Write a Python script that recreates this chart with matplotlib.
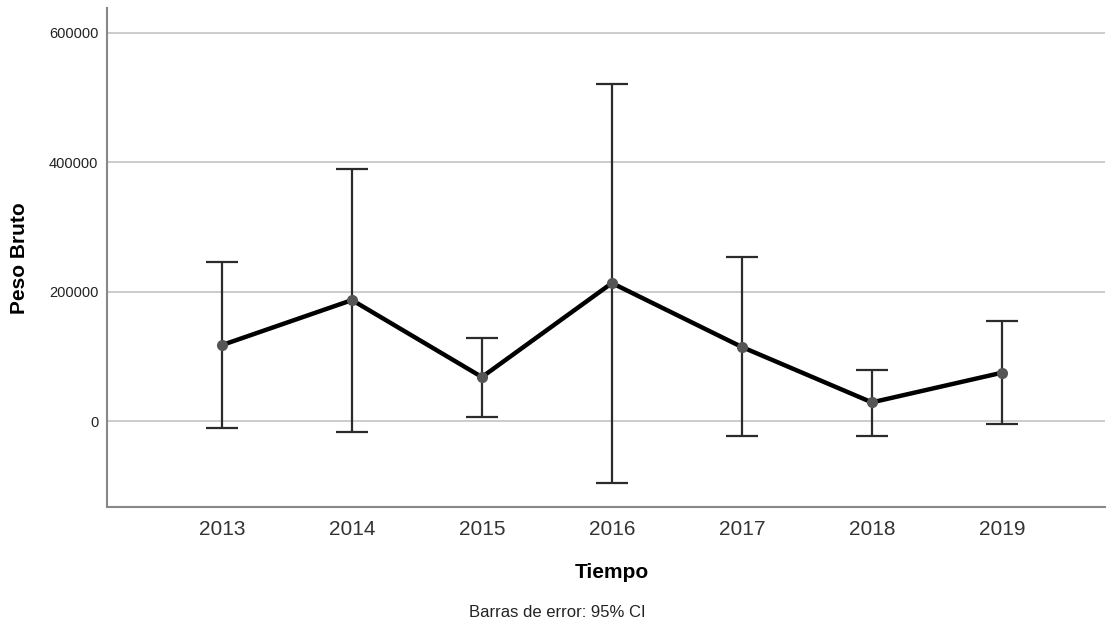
import matplotlib
matplotlib.use('Agg')
import matplotlib.pyplot as plt
import numpy as np

# dati (media e intervallo di confidenza al 95%)
years = ['2013', '2014', '2015', '2016', '2017', '2018', '2019']
means = [117800, 187300, 68400, 213600, 114800, 29300, 75100]
ci_upper = [246500, 389700, 128700, 520500, 253800, 79200, 155400]
ci_lower = [-9900, -16100, 6600, -95300, -22700, -22200, -4600]
y_ticks = [0, 200000, 400000, 600000]

plt.rcParams['font.family'] = ['Liberation Sans', 'DejaVu Sans']

fig = plt.figure(figsize=(11.07, 6.24), dpi=100)
ax = fig.add_axes([0.0964, 0.187, 0.9016, 0.8])

x = np.arange(len(years))
means = np.array(means)
err = [means - np.array(ci_lower), np.array(ci_upper) - means]

ax.errorbar(x, means, yerr=err, fmt='none', ecolor='#2b2b2b', elinewidth=1.6,
            capsize=11.5, capthick=1.6, zorder=3)
ax.plot(x, means, color='black', linewidth=3.2, zorder=4)
ax.plot(x, means, 'o', color='#555555', markersize=7, zorder=5)

ax.set_xlim(-0.887, 6.792)
ax.set_ylim(-132800, 638300)
ax.set_xticks(x)
ax.set_xticklabels(years, fontsize=15, color='#333333')
ax.set_yticks(y_ticks)
ax.set_yticklabels([str(v) for v in y_ticks], fontsize=10.5, color='#222222')
ax.tick_params(length=0)
ax.tick_params(axis='x', pad=9)
ax.tick_params(axis='y', pad=6)

ax.grid(axis='y', color='#cccccc', linewidth=1.4, zorder=0)
ax.set_axisbelow(True)
for side in ['top', 'right']:
    ax.spines[side].set_visible(False)
for side in ['left', 'bottom']:
    ax.spines[side].set_color('#888888')
    ax.spines[side].set_linewidth(1.5)

fig.text(0.553, 0.082, 'Tiempo', fontsize=15, fontweight='bold', ha='center', va='center')
fig.text(0.018, 0.587, 'Peso Bruto', fontsize=15, fontweight='bold', rotation=90,
         ha='center', va='center')
fig.text(0.503, 0.019, 'Barras de error: 95% CI', fontsize=12, ha='center', va='center',
         color='#222222')

fig.savefig('out.png', dpi=100)
